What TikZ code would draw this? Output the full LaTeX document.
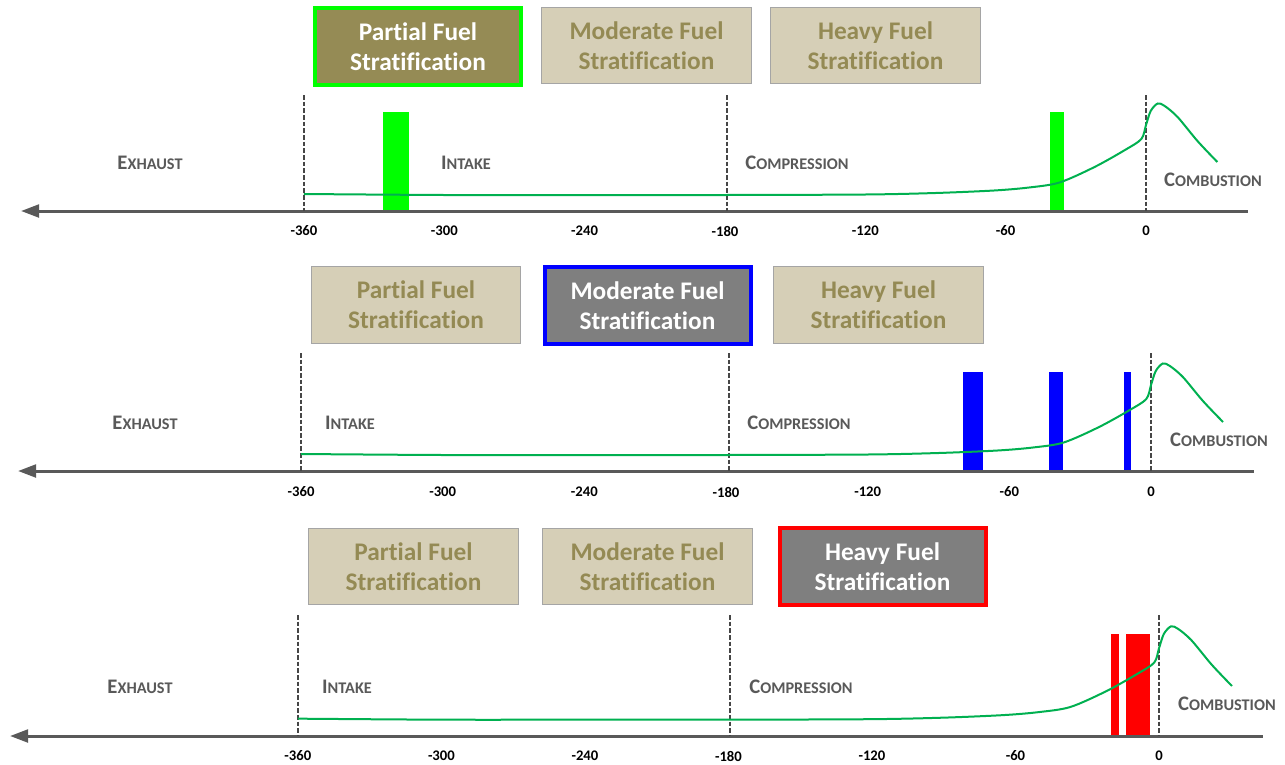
\documentclass[tikz,border=0pt]{standalone}
\usepackage{fontspec}
\setmainfont[Ligatures=NoCommon]{Carlito}
\usetikzlibrary{arrows.meta}
\definecolor{axisgray}{RGB}{89,89,89}
\definecolor{dashgray}{RGB}{70,70,70}
\definecolor{labgray}{RGB}{89,89,89}
\definecolor{tanfill}{RGB}{214,207,183}
\definecolor{olivetext}{RGB}{148,138,84}
\definecolor{olivefill}{RGB}{149,139,85}
\definecolor{selgray}{RGB}{127,127,127}
\definecolor{curvegreen}{RGB}{0,176,80}
\definecolor{bargreen}{RGB}{0,255,0}
\definecolor{barblue}{RGB}{0,0,255}
\definecolor{barred}{RGB}{255,0,0}
\definecolor{tanborder}{RGB}{165,165,165}
\newcommand\fakesc[2]{{\fontsize{15.5}{16}\selectfont #1}{\fontsize{12.2}{13}\selectfont #2}}
\tikzset{
  box/.style={draw=tanborder, line width=0.8pt, fill=tanfill, text=olivetext,
    minimum width=157pt, minimum height=57.5pt, inner sep=0pt, align=center,
    font=\fontsize{19}{22.5}\selectfont\bfseries},
  selbox/.style={box, line width=3pt, minimum width=154.5pt, minimum height=57.5pt, text=white},
  phase/.style={text=labgray, font=\bfseries, inner sep=0pt},
  ticklab/.style={text=black, font=\fontsize{11}{13}\selectfont\bfseries, inner sep=0pt},
  axisline/.style={draw=axisgray, line width=2.25pt, {Triangle[length=13.5pt,width=9.5pt]}-},
  divider/.style={draw=dashgray, line width=1.6pt, dash pattern=on 3.5pt off 1.5pt},
  curve/.style={draw=curvegreen, line width=1.5pt},
}
\newcommand\pressurecurve{%
  plot[smooth, tension=0.5] coordinates {(-360,-17) (-300,-16) (-240,-16) (-180,-16) (-120,-16.5) (-90,-18) (-65,-20.5) (-50,-23.5) (-37,-28.5) (-22,-44) (-9,-61) (-2,-72) (0,-86) (2,-100) (5,-107.5) (8,-105) (13.5,-94) (22,-70) (30.5,-49)}}
\begin{document}
\begin{tikzpicture}[x=0.75pt, y=-0.75pt]
\useasboundingbox (0,0) rectangle (1285,764);

% ---------------- Panel 1 ----------------
\node[selbox, draw=bargreen, fill=olivefill] (p1partial) at (418,46.5) {Partial Fuel\\Stratification};
\node[box] (p1moderate) at (646.5,45.5) {Moderate Fuel\\Stratification};
\node[box] (p1heavy) at (875.5,45.5) {Heavy Fuel\\Stratification};

\fill[bargreen] (383,112) rectangle (409,211);
\fill[bargreen] (1050,112) rectangle (1064,211);

\coordinate (p1left) at (21,211);
\coordinate (p1right) at (1248,211);
\draw[axisline] (p1left) -- (p1right);
\coordinate (p1d1t) at (304,95); \coordinate (p1d1b) at (304,211);
\coordinate (p1d2t) at (727,95); \coordinate (p1d2b) at (727,211);
\coordinate (p1d3t) at (1146,95); \coordinate (p1d3b) at (1146,211);
\draw[divider] (p1d1t) -- (p1d1b);
\draw[divider] (p1d2t) -- (p1d2b);
\draw[divider] (p1d3t) -- (p1d3b);
\begin{scope}[shift={(1146,211)}, xscale=2.339]
  \draw[curve] \pressurecurve;
\end{scope}
\foreach \d [count=\i] in {-360,-300,-240,-180,-120,-60,0}
  \node[ticklab] (p1tick\i) at ({1146+2.339*\d},231) {\d};
\node[phase] (p1exhaust) at (150,163) {\fakesc{E}{XHAUST}};
\node[phase] (p1intake) at (466,163) {\fakesc{I}{NTAKE}};
\node[phase] (p1compression) at (797,163) {\fakesc{C}{OMPRESSION}};
\node[phase] (p1combustion) at (1213,180) {\fakesc{C}{OMBUSTION}};

% ---------------- Panel 2 ----------------
\node[box] (p2partial) at (416,305) {Partial Fuel\\Stratification};
\node[selbox, draw=barblue, fill=selgray] (p2moderate) at (647.5,305.5) {Moderate Fuel\\Stratification};
\node[box] (p2heavy) at (878.5,305) {Heavy Fuel\\Stratification};

\fill[barblue] (963,372) rectangle (983,471);
\fill[barblue] (1049,372) rectangle (1063,471);
\fill[barblue] (1124,372) rectangle (1131,471);

\coordinate (p2left) at (18,471);
\coordinate (p2right) at (1254,471);
\draw[axisline] (p2left) -- (p2right);
\coordinate (p2d1t) at (301,353); \coordinate (p2d1b) at (301,471);
\coordinate (p2d2t) at (729,353); \coordinate (p2d2b) at (729,471);
\coordinate (p2d3t) at (1151,353); \coordinate (p2d3b) at (1151,471);
\draw[divider] (p2d1t) -- (p2d1b);
\draw[divider] (p2d2t) -- (p2d2b);
\draw[divider] (p2d3t) -- (p2d3b);
\begin{scope}[shift={(1151,471)}, xscale=2.361]
  \draw[curve] \pressurecurve;
\end{scope}
\foreach \d [count=\i] in {-360,-300,-240,-180,-120,-60,0}
  \node[ticklab] (p2tick\i) at ({1151+2.361*\d},492) {\d};
\node[phase] (p2exhaust) at (145,423) {\fakesc{E}{XHAUST}};
\node[phase] (p2intake) at (350,423) {\fakesc{I}{NTAKE}};
\node[phase] (p2compression) at (799,423) {\fakesc{C}{OMPRESSION}};
\node[phase] (p2combustion) at (1219,440) {\fakesc{C}{OMBUSTION}};

% ---------------- Panel 3 ----------------
\node[box] (p3partial) at (413.5,566.5) {Partial Fuel\\Stratification};
\node[box] (p3moderate) at (647.5,566.5) {Moderate Fuel\\Stratification};
\node[selbox, draw=barred, fill=selgray] (p3heavy) at (882.5,566.5) {Heavy Fuel\\Stratification};

\fill[barred] (1111,634) rectangle (1119,736);
\fill[barred] (1126,634) rectangle (1150,736);

\coordinate (p3left) at (10,736);
\coordinate (p3right) at (1263,736);
\draw[axisline] (p3left) -- (p3right);
\coordinate (p3d1t) at (298,615); \coordinate (p3d1b) at (298,736);
\coordinate (p3d2t) at (730,615); \coordinate (p3d2b) at (730,736);
\coordinate (p3d3t) at (1159,615); \coordinate (p3d3b) at (1159,736);
\draw[divider] (p3d1t) -- (p3d1b);
\draw[divider] (p3d2t) -- (p3d2b);
\draw[divider] (p3d3t) -- (p3d3b);
\begin{scope}[shift={(1159,736)}, xscale=2.392, yscale=1.02]
  \draw[curve] \pressurecurve;
\end{scope}
\foreach \d [count=\i] in {-360,-300,-240,-180,-120,-60,0}
  \node[ticklab] (p3tick\i) at ({1159+2.392*\d},756) {\d};
\node[phase] (p3exhaust) at (140,687) {\fakesc{E}{XHAUST}};
\node[phase] (p3intake) at (347,687) {\fakesc{I}{NTAKE}};
\node[phase] (p3compression) at (801,687) {\fakesc{C}{OMPRESSION}};
\node[phase] (p3combustion) at (1227,704) {\fakesc{C}{OMBUSTION}};
\end{tikzpicture}
\end{document}
